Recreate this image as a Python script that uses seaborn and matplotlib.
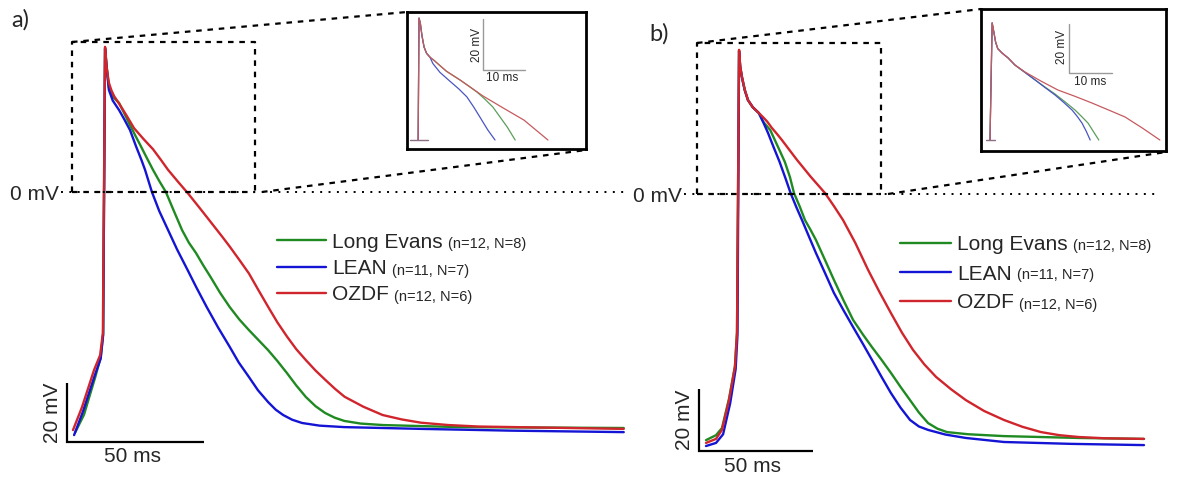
import matplotlib
matplotlib.use("Agg")
import matplotlib.pyplot as plt
import numpy as np
import pandas as pd
import seaborn as sns

# ---------------------------------------------------------------------------
# Averaged action potentials (time in ms, membrane potential in mV)
# ---------------------------------------------------------------------------
groups = ["Long Evans", "LEAN", "OZDF"]
counts = ["(n=12, N=8)", "(n=11, N=7)", "(n=12, N=6)"]

# panel a
a_le_t = [0.8, 4.0, 8.2, 10.1, 11.0, 11.7, 12.3, 13.1, 14.5, 16.8, 18.8, 20.8, 22.7, 24.5, 26.8,
          29.2, 31.5, 33.9, 36.8, 39.8, 42.3, 44.9, 47.5, 50.2, 53.7, 57.2, 60.7, 64.2, 67.7,
          71.2, 74.6, 78.1, 81.5, 85.0, 88.5, 92.0, 95.5, 99.0, 105.0, 113.1, 141.0, 201.0]
a_le_v = [-81.5, -75.5, -62.5, -56.0, -48.0, 48.8, 42.5, 35.3, 32.3, 30.2, 26.5, 22.7, 19.2, 16.0, 11.8,
          7.5, 3.7, 0.0, -6.4, -12.9, -17.2, -20.7, -24.8, -28.8, -34.2, -39.0, -43.2, -46.8, -50.2,
          -53.6, -57.3, -61.4, -65.6, -69.5, -72.6, -74.9, -76.5, -77.6, -78.5, -79.0, -79.7, -80.0]

a_lean_t = [0.4, 3.6, 8.0, 10.1, 11.0, 11.7, 12.3, 13.1, 14.5, 16.8, 18.8, 20.8, 23.0, 25.0, 26.3,
            28.8, 31.5, 34.7, 38.0, 41.8, 45.0, 48.8, 53.0, 57.2, 60.5, 64.2, 67.5, 71.2, 74.0,
            76.7, 80.0, 83.6, 90.0, 99.0, 127.0, 160.0, 201.0]
a_lean_v = [-82.4, -74.5, -62.0, -56.5, -48.5, 48.5, 42.0, 34.6, 31.0, 27.8, 24.5, 21.0, 15.5, 10.8, 7.5,
            0.0, -6.5, -12.9, -19.5, -26.4, -32.3, -39.0, -46.0, -52.5, -57.8, -62.7, -67.2, -71.2, -73.8,
            -75.6, -77.2, -78.3, -79.2, -79.7, -80.3, -80.9, -81.4]

a_ozdf_t = [0.0, 3.3, 7.7, 9.9, 10.9, 11.7, 12.3, 13.1, 14.0, 15.0, 16.8, 19.5, 22.3, 25.7, 29.2,
            32.0, 34.7, 38.3, 42.0, 46.9, 51.8, 54.5, 57.2, 60.7, 64.2, 67.7, 71.2, 74.6, 78.1,
            81.5, 85.0, 88.5, 92.1, 95.6, 99.1, 106.0, 113.0, 120.0, 127.0, 137.0, 148.0, 201.0]
a_ozdf_v = [-80.7, -72.9, -60.3, -55.3, -47.8, 49.2, 42.0, 37.0, 34.5, 32.5, 30.0, 26.0, 21.6, 18.0, 14.5,
            11.0, 7.5, 3.5, -0.5, -6.2, -12.0, -15.2, -18.5, -23.0, -27.6, -33.3, -38.9, -44.2, -49.0,
            -53.3, -57.0, -60.5, -63.7, -66.7, -69.4, -72.8, -75.6, -77.1, -78.2, -79.0, -79.5, -80.3]

# panel b
b_le_t = [0.0, 4.4, 7.0, 10.1, 12.7, 13.6, 14.5, 15.0, 15.8, 17.0, 18.4, 20.5, 23.2, 25.2, 28.2,
          30.2, 32.2, 34.6, 36.8, 38.6, 41.2, 43.4, 45.8, 48.2, 52.2, 56.1, 60.3, 64.5, 68.7,
          72.8, 77.0, 81.1, 85.3, 89.5, 93.4, 97.4, 101.5, 105.7, 115.0, 130.7, 163.6, 192.1]
b_le_v = [-79.4, -77.8, -75.5, -66.0, -55.5, -44.5, 46.2, 41.0, 37.5, 33.5, 30.3, 28.0, 26.1, 23.2, 20.6,
          17.4, 14.2, 10.3, 5.5, 0.3, -4.2, -8.4, -11.5, -14.8, -21.3, -27.7, -34.3, -40.6, -45.2,
          -49.4, -53.5, -57.7, -62.2, -66.5, -70.5, -73.9, -75.7, -76.8, -77.5, -78.1, -78.7, -79.0]

b_lean_t = [0.0, 4.4, 7.5, 10.6, 13.0, 13.8, 14.5, 15.0, 15.8, 17.0, 18.4, 20.5, 23.2, 25.2, 27.2,
            29.6, 32.2, 34.8, 37.1, 39.6, 42.1, 45.2, 48.2, 52.2, 56.1, 60.3, 64.5, 68.7, 72.8,
            77.0, 81.1, 85.3, 89.5, 93.4, 97.4, 105.0, 114.0, 130.7, 160.0, 192.1]
b_lean_v = [-81.3, -80.3, -77.5, -67.5, -56.5, -45.5, 46.0, 41.0, 37.5, 33.5, 30.3, 28.0, 26.1, 23.0, 19.7,
            15.2, 10.5, 5.2, 0.3, -4.2, -8.4, -13.8, -19.0, -25.5, -31.9, -37.5, -42.9, -48.2, -53.5,
            -59.0, -64.2, -68.9, -72.9, -75.0, -76.1, -77.6, -78.7, -80.0, -80.6, -81.0]

b_ozdf_t = [0.0, 4.4, 7.0, 10.1, 12.7, 13.6, 14.5, 15.0, 15.8, 17.0, 18.4, 20.5, 23.2, 25.0, 26.8,
            28.9, 31.1, 33.3, 36.8, 39.9, 46.0, 52.2, 56.2, 60.1, 65.5, 71.1, 76.0, 81.1, 86.0,
            90.8, 95.8, 100.9, 107.5, 114.0, 122.0, 130.7, 138.8, 146.9, 155.0, 163.6, 175.0, 192.1]
b_ozdf_v = [-80.3, -79.0, -76.1, -66.5, -55.8, -44.8, 46.5, 41.2, 37.7, 33.6, 30.3, 28.0, 26.1, 24.8, 23.4,
            21.3, 19.4, 17.4, 14.0, 11.0, 5.5, 0.3, -4.0, -8.4, -15.8, -24.5, -31.5, -38.4, -44.8,
            -50.3, -55.0, -59.0, -63.0, -66.5, -70.0, -72.9, -75.1, -76.8, -77.8, -78.4, -78.8, -79.0]

# zoomed views of the portion above 0 mV
ia_le_t = [-0.2, 0.0, 0.3, 0.7, 1.2, 1.8, 2.6, 3.6, 6.5, 9.8, 11.8, 13.8, 15.7, 17.6, 19.3, 21.0, 22.9]
ia_le_v = [0.0, 47.8, 46.0, 41.0, 36.5, 34.0, 32.5, 31.2, 27.0, 23.5, 21.2, 18.8, 16.0, 12.9, 9.0, 5.1, 0.0]
ia_lean_t = [-0.2, 0.0, 0.3, 0.7, 1.2, 1.8, 2.6, 3.3, 5.0, 7.4, 9.5, 11.4, 13.0, 14.5, 15.5, 16.4, 18.1]
ia_lean_v = [0.0, 47.8, 46.0, 41.0, 36.5, 34.0, 32.5, 30.0, 26.5, 23.0, 20.0, 16.9, 13.0, 9.0, 6.3, 3.9, 0.0]
ia_ozdf_t = [-0.2, 0.0, 0.3, 0.7, 1.2, 1.8, 2.6, 3.6, 6.5, 9.8, 15.2, 20.0, 25.0, 30.7]
ia_ozdf_v = [0.0, 47.8, 46.0, 41.0, 36.5, 34.0, 32.5, 31.2, 27.0, 23.5, 17.3, 12.6, 7.8, 0.0]

ib_le_t = [0.0, 0.5, 0.9, 1.3, 1.8, 2.8, 4.2, 5.8, 8.2, 10.5, 12.8, 15.1, 17.5, 19.8, 21.3, 22.8, 25.3]
ib_le_v = [0.0, 47.8, 44.0, 40.0, 37.3, 35.5, 33.5, 30.6, 27.5, 24.5, 21.6, 18.8, 15.5, 12.2, 9.6, 6.9, 0.0]
ib_lean_t = [0.0, 0.5, 0.9, 1.3, 1.8, 2.8, 4.2, 5.8, 8.2, 10.5, 12.8, 15.1, 17.1, 19.1, 20.3, 21.4, 22.4, 23.3]
ib_lean_v = [0.0, 47.8, 44.0, 40.0, 37.3, 35.5, 33.5, 30.6, 27.5, 24.5, 21.4, 18.4, 15.4, 12.2, 9.6, 6.9, 3.5, 0.0]
ib_ozdf_t = [0.0, 0.5, 0.9, 1.3, 1.8, 2.8, 4.2, 5.8, 8.1, 11.9, 15.8, 19.8, 23.7, 27.5, 31.4, 35.5, 39.5]
ib_ozdf_v = [0.0, 47.8, 44.0, 40.0, 37.3, 35.5, 33.5, 30.6, 27.8, 24.0, 20.4, 17.8, 15.1, 12.3, 9.4, 4.8, 0.0]

main_colors = {"Long Evans": "#1f8a22", "LEAN": "#1414d4", "OZDF": "#d0252c"}
inset_colors = {"Long Evans": "#5a9e5a", "LEAN": "#4a55c2", "OZDF": "#c65a5e"}


def traces(series):
    frames = []
    for name, (t, v) in zip(groups, series):
        frames.append(pd.DataFrame({"t": t, "V": v, "group": name}))
    return pd.concat(frames, ignore_index=True)


df_a = traces([(a_le_t, a_le_v), (a_lean_t, a_lean_v), (a_ozdf_t, a_ozdf_v)])
df_b = traces([(b_le_t, b_le_v), (b_lean_t, b_lean_v), (b_ozdf_t, b_ozdf_v)])
df_ia = traces([(ia_le_t, ia_le_v), (ia_lean_t, ia_lean_v), (ia_ozdf_t, ia_ozdf_v)])
df_ib = traces([(ib_le_t, ib_le_v), (ib_lean_t, ib_lean_v), (ib_ozdf_t, ib_ozdf_v)])

# ---------------------------------------------------------------------------
sns.set_theme(style="white")
plt.rcParams["font.family"] = ["Liberation Sans", "DejaVu Sans"]

W, H = 1179, 478
fig = plt.figure(figsize=(W / 100, H / 100), dpi=100)
fig.patch.set_facecolor("white")


def fx(x):
    return x / W


def fy(y):
    return 1 - y / H


def fig_line(xs, ys, **kw):
    fig.add_artist(plt.Line2D([fx(x) for x in xs], [fy(y) for y in ys],
                              transform=fig.transFigure, **kw))


def fig_text(x, y, s, **kw):
    return fig.text(fx(x), fy(y), s, **kw)


def panel_axes(x0, y0, px_ms, px_mv):
    """Full-figure axes whose origin (0 ms, 0 mV) sits at pixel (x0, y0)."""
    ax = fig.add_axes([0, 0, 1, 1])
    ax.set_xlim(-x0 / px_ms, (W - x0) / px_ms)
    ax.set_ylim((y0 - H) / px_mv, y0 / px_mv)
    ax.set_axis_off()
    ax.patch.set_alpha(0)
    return ax


def inset_axes(left, top, right, bottom, x0, y0, px_ms, px_mv):
    ax = fig.add_axes([fx(left), fy(bottom), (right - left) / W, (bottom - top) / H])
    ax.set_xlim((left - x0) / px_ms, (right - x0) / px_ms)
    ax.set_ylim((y0 - bottom) / px_mv, (y0 - top) / px_mv)
    ax.set_xticks([])
    ax.set_yticks([])
    for s in ax.spines.values():
        s.set_visible(True)
        s.set_color("black")
        s.set_linewidth(2.0)
    ax.set_facecolor("white")
    return ax


box_style = dict(color="black", lw=1.6, linestyle=(0, (2.5, 2.6)))
dot_style = dict(color="black", lw=1.4, linestyle=(0, (1.0, 3.3)))

panels = [
    dict(df=df_a, df_in=df_ia, origin=(73, 192), pms=2.74, pmv=2.95, label="a)", label_xy=(20, 20),
         zero_x=59, zero_span=(61, 626), zbox=(72, 42, 255, 192), ibox=(407, 12, 586, 149),
         iorig=(419, 140), ipms=4.2, ipmv=2.55, conn=[((72, 42), (407, 12)), ((262, 192), (586, 150))],
         bar=(-2.2, -84.7), ibar=(15.2, 27.5), base=(-2.1, 2.1),
         leg_x=(277, 326), leg_text_x=332, leg_y=(240, 267, 293),
         mv_lbl=(52, 413), ms_lbl=(133, 457), imv_lbl=(477, 45), ims_lbl=(502, 78)),
    dict(df=df_b, df_in=df_ib, origin=(706, 194), pms=2.28, pmv=3.1, label="b)", label_xy=(659, 34),
         zero_x=682, zero_span=(684, 1158), zbox=(697, 43, 881, 194), ibox=(981, 9, 1166, 151),
         iorig=(990, 140), ipms=4.3, ipmv=2.45, conn=[((697, 43), (981, 9)), ((888, 194), (1166, 152))],
         bar=(-3.1, -82.9), ibar=(18.4, 27.3), base=(-0.9, 1.2),
         leg_x=(900, 951), leg_text_x=957, leg_y=(243, 272, 301),
         mv_lbl=(685, 420), ms_lbl=(752, 467), imv_lbl=(1062, 47), ims_lbl=(1090, 82)),
]

renderer = fig.canvas.get_renderer()

for p in panels:
    ax = panel_axes(p["origin"][0], p["origin"][1], p["pms"], p["pmv"])

    # 0 mV reference and zoom frame
    fig_line(p["zero_span"], [p["origin"][1]] * 2, **dot_style)
    l, t, r, b = p["zbox"]
    fig_line([l, l, r, r], [b, t, t, b], **box_style)
    fig_line([l, r], [b, b], **box_style)
    for (x1, y1), (x2, y2) in p["conn"]:
        fig_line([x1, x2], [y1, y2], **box_style)

    sns.lineplot(data=p["df"], x="t", y="V", hue="group", hue_order=groups,
                 palette=main_colors, estimator=None, sort=False, legend=False,
                 lw=1.7, ax=ax)

    # scale bars: 20 mV / 50 ms
    bx, by = p["bar"]
    ax.plot([bx, bx, bx + 50], [by + 20, by, by], color="black", lw=1.6,
            solid_capstyle="butt", solid_joinstyle="miter")

    # panel texts
    fig_text(*p["label_xy"], p["label"], fontsize=17, ha="center", va="center",
             family=["Lato", "DejaVu Sans"])
    fig_text(p["zero_x"], p["origin"][1] + 7.5, "0 mV", fontsize=15, ha="right", va="baseline")
    fig_text(*p["mv_lbl"], "20 mV", fontsize=15, rotation=90, ha="center", va="center")
    fig_text(*p["ms_lbl"], "50 ms", fontsize=15, ha="center", va="center")

    # legend
    x1, x2 = p["leg_x"]
    for name, cnt, yy in zip(groups, counts, p["leg_y"]):
        fig_line([x1, x2], [yy, yy], color=main_colors[name], lw=1.7)
        t1 = fig_text(p["leg_text_x"], yy + 7.5, name, fontsize=15, ha="left", va="baseline")
        bb = t1.get_window_extent(renderer)
        fig.text((bb.x1 + 5) / W, fy(yy + 7.5), cnt, fontsize=10.5, ha="left", va="baseline")

    # inset: portion of the traces above 0 mV
    il, it, ir, ib = p["ibox"]
    ix0, iy0 = p["iorig"]
    axi = inset_axes(il, it, ir, ib, ix0, iy0, p["ipms"], p["ipmv"])
    sns.lineplot(data=p["df_in"], x="t", y="V", hue="group", hue_order=groups,
                 palette=inset_colors, estimator=None, sort=False, legend=False,
                 lw=0.9, ax=axi)
    axi.plot(list(p["base"]), [0, 0], color="#8a6f86", lw=1.0)
    axi.set_xlabel("")
    axi.set_ylabel("")
    sx, sy = p["ibar"]
    axi.plot([sx, sx, sx + 10], [sy + 20, sy, sy], color="#9a9a9a", lw=1.0)
    fig_text(*p["imv_lbl"], "20 mV", fontsize=8.5, rotation=90, ha="center", va="center")
    fig_text(*p["ims_lbl"], "10 ms", fontsize=8.5, ha="center", va="center")

fig.savefig("out.png", dpi=100, facecolor="white")
